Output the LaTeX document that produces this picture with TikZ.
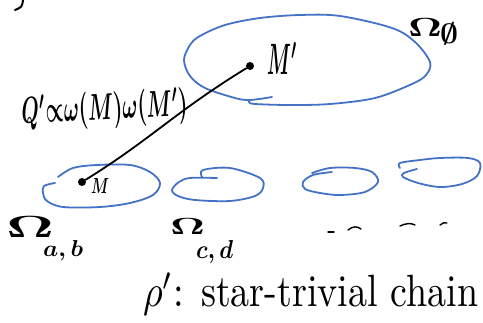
\RequirePackage{fix-cm}
\documentclass[tikz,border=0pt]{standalone}
\usepackage{graphicx}
\definecolor{inkblue}{RGB}{68,114,196}
\tikzset{
  blob/.style={draw=inkblue, line width=1.8pt, line cap=round, line join=round},
  ink/.style={draw=black, line width=2pt, line cap=round, line join=round},
  dot/.style={circle, fill=black, inner sep=0pt, minimum size=8pt},
  lab/.style={inner sep=0pt, anchor=base west, font=\boldmath},
}
\begin{document}
\begin{tikzpicture}[x=1pt,y=-1pt]
\useasboundingbox (0,0) rectangle (483,323);
% top-left fragment
\draw[ink] (23,0) .. controls (22,7) .. (15,10);
% big region
\draw[blob] plot[smooth, tension=0.55] coordinates {(272,97) (250,100) (235,98) (205,88) (190,76) (184,60) (190,45) (200,36) (225,25) (260,18) (300,15) (340,16) (392,28) (415,42) (430,62) (426,75) (412,84) (375,98) (330,104) (290,105) (255,104) (249,102) (249,100)};
% small regions
\draw[blob] plot[smooth, tension=0.55] coordinates {(58,177) (73,168) (97,165) (130,165) (150,172) (160,183) (153,195) (130,203) (100,207) (63,207) (47,201) (43,193) (44,186) (55,183)};
\draw[blob] plot[smooth, tension=0.55] coordinates {(202,177) (203,170) (230,168) (260,178) (263,188) (255,196) (230,201) (195,200) (178,196) (172,190) (179,182) (190,178) (217,178)};
\draw[blob] plot[smooth, tension=0.55] coordinates {(332,172) (313,175) (303,182) (305,189) (320,193) (340,195) (365,192) (378,182) (372,172) (355,168) (330,168) (312,173)};
\draw[blob] plot[smooth, tension=0.55] coordinates {(400,168) (400,163) (420,160) (440,158) (468,158) (480,163) (477,176) (462,184) (440,187) (418,183) (403,177) (404,173) (417,169)};
% points and connector
\node[dot] (M) at (82,182) {};
\node[dot] (Mp) at (250,66) {};
\draw[ink, line width=1.8pt] (M) .. controls (150,140) and (175,112) .. (Mp);
% labels
\node[lab] (lM) at (91,194) {\resizebox{18pt}{15pt}{$M$}};
\node[lab] (lMp) at (267,75) {\resizebox{30pt}{33pt}{$M'$}};
\node[lab, rotate=3] (lQ) at (22,124) {\resizebox{166pt}{28pt}{$Q'{\propto}\omega(M)\omega(M')$}};
\node[lab] (lO0) at (408,37) {\resizebox{34pt}{18pt}{$\Omega$}};
\node[lab] (lO0s) at (440,44) {\resizebox{18pt}{21pt}{$\emptyset$}};
\node[lab] (lOab) at (6,238) {\resizebox{48pt}{21pt}{$\Omega$}};
\node[lab] (sab) at (43,257) {\resizebox{40pt}{16pt}{$a,b$}};
\node[lab] (lOcd) at (170,235) {\resizebox{35pt}{16pt}{$\Omega$}};
\node[lab] (scd) at (196,259) {\resizebox{37pt}{18pt}{$c,d$}};
% ellipsis strokes
\draw[ink, line width=1.4pt] (328,232) -- (334,232);
\draw[ink, line width=1.4pt] (348,230) .. controls (353,226) and (357,226) .. (361,229);
\draw[ink, line width=1.4pt] (400,226) .. controls (406,223) and (411,223) .. (415,225);
\draw[ink, line width=1.4pt] (440,225) .. controls (442,223) and (445,222) .. (447,223);
% bottom caption
\node[lab, font=\unboldmath] (cap) at (143,307) {\resizebox{335pt}{34pt}{$\rho'$:\hspace{0.45em}star-trivial chain}};
\end{tikzpicture}
\end{document}
